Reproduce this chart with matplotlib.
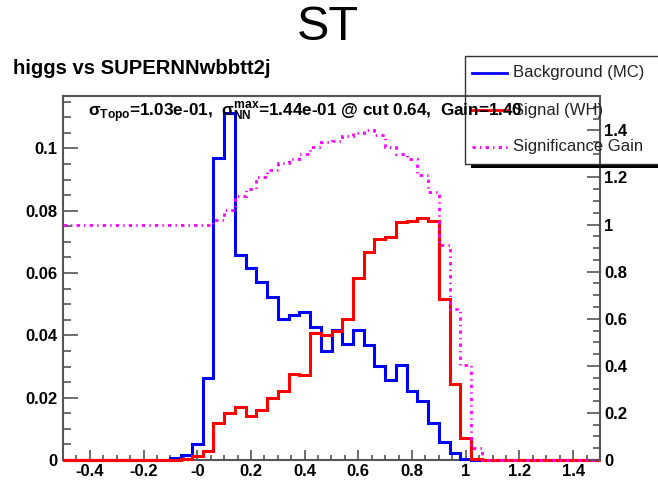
import numpy as np
import matplotlib
matplotlib.use("Agg")
import matplotlib.pyplot as plt
from matplotlib.patches import Rectangle
from matplotlib.lines import Line2D

plt.rcParams['font.family'] = ['Liberation Sans', 'DejaVu Sans']
plt.rcParams['mathtext.fontset'] = 'custom'
plt.rcParams['mathtext.rm'] = 'Liberation Sans:bold'
plt.rcParams['mathtext.it'] = 'Liberation Sans:bold'
plt.rcParams['mathtext.bf'] = 'Liberation Sans:bold'

# ---- data (50 bins from -0.5 to 1.5) ----
bin_lo, bin_hi, n_bins = -0.5, 1.5, 50
background = [0, 0, 0, 0, 0, 0, 0, 0, 0, 0.0001,
              0.0005, 0.0015, 0.0051, 0.0262, 0.0968, 0.1113, 0.0658, 0.0617, 0.0570, 0.0522,
              0.0451, 0.0465, 0.0476, 0.0428, 0.0350, 0.0417, 0.0372, 0.0417, 0.0368, 0.0302,
              0.0257, 0.0305, 0.0221, 0.0190, 0.0118, 0.0059, 0.0021, 0.0003, 0, 0,
              0, 0, 0, 0, 0, 0, 0, 0, 0, 0]
signal = [0, 0, 0, 0, 0, 0, 0, 0, 0, 0,
          0, 0.0003, 0.0012, 0.0030, 0.0118, 0.0152, 0.0169, 0.0141, 0.0160, 0.0200,
          0.0221, 0.0275, 0.0272, 0.0409, 0.0400, 0.0415, 0.0451, 0.0583, 0.0668, 0.0708,
          0.0716, 0.0765, 0.0768, 0.0775, 0.0767, 0.0516, 0.0243, 0.0070, 0.0003, 0,
          0, 0, 0, 0, 0, 0, 0, 0, 0, 0]
gain = [1.0, 1.0, 1.0, 1.0, 1.0, 1.0, 1.0, 1.0, 1.0, 1.0,
        1.0, 1.0, 1.0, 1.0, 1.02, 1.06, 1.12, 1.15, 1.20, 1.23,
        1.26, 1.28, 1.30, 1.33, 1.35, 1.355, 1.375, 1.39, 1.40, 1.38,
        1.33, 1.30, 1.28, 1.21, 1.14, 0.915, 0.64, 0.405, 0.05, 0,
        0, 0, 0, 0, 0, 0, 0, 0, 0, 0]

x_ticks = [-0.4, -0.2, 0.0, 0.2, 0.4, 0.6, 0.8, 1.0, 1.2, 1.4]
x_ticklabels = ["-0.4", "-0.2", "-0", "0.2", "0.4", "0.6", "0.8", "1", "1.2", "1.4"]
yl_ticks = [0, 0.02, 0.04, 0.06, 0.08, 0.1]
yl_ticklabels = ["0", "0.02", "0.04", "0.06", "0.08", "0.1"]
yr_ticks = [0, 0.2, 0.4, 0.6, 0.8, 1.0, 1.2, 1.4]
yr_ticklabels = ["0", "0.2", "0.4", "0.6", "0.8", "1", "1.2", "1.4"]

title = "ST"
subtitle = "higgs vs SUPERNNwbbtt2j"
stat_text = r"$\sigma_{Topo}$=1.03e-01,  $\sigma_{NN}^{max}$=1.44e-01 @ cut 0.64,  Gain=1.40"
legend_labels = ["Background (MC)", "Signal (WH)", "Significance Gain"]

W, H = 658, 483
def fx(x): return x / W
def fy(y): return 1 - y / H

fig = plt.figure(figsize=(W / 100, H / 100), dpi=100)
ax = fig.add_axes([fx(63), fy(460), (600 - 63) / W, (460 - 96) / H])
ax2 = ax.twinx()

edges = np.linspace(bin_lo, bin_hi, n_bins + 1)
ax.stairs(background, edges, color='#0000ff', lw=2.2, baseline=None, clip_on=False, zorder=3)
ax.stairs(signal, edges, color='#ff0000', lw=2.2, baseline=None, clip_on=False, zorder=4)
ax2.stairs(gain, edges, color='#ff00ff', lw=2.0, baseline=None, clip_on=False,
           linestyle=(0, (1.2, 1.5, 0.5, 1.5)))

ax.set_xlim(bin_lo, bin_hi)
ax.set_ylim(0, 0.1168)
ax2.set_ylim(0, 1.546)

fc = '#555555'
for a in (ax, ax2):
    for s in a.spines.values():
        s.set_color(fc)
        s.set_linewidth(1.5)
ax.spines['right'].set_visible(False)
ax2.spines['left'].set_visible(False)
ax2.spines['bottom'].set_visible(False)

ax.set_xticks(x_ticks)
ax.set_xticklabels(x_ticklabels, fontsize=12, fontweight='bold')
ax.set_xticks(np.arange(-0.5, 1.501, 0.05), minor=True)
ax.set_yticks(yl_ticks)
ax.set_yticklabels(yl_ticklabels, fontsize=12, fontweight='bold')
ax.set_yticks(np.arange(0, 0.1151, 0.005), minor=True)
ax.tick_params(axis='x', which='major', direction='in', length=7, width=1.2, color=fc, pad=3)
ax.tick_params(axis='x', which='minor', direction='in', length=3.6, width=1.2, color=fc)
ax.tick_params(axis='y', which='major', direction='in', length=10.5, width=1.2, color=fc, pad=4)
ax.tick_params(axis='y', which='minor', direction='in', length=5.5, width=1.2, color=fc)

ax2.set_yticks(yr_ticks)
ax2.set_yticklabels(yr_ticklabels, fontsize=12, fontweight='bold')
ax2.set_yticks(np.arange(0, 1.5451, 0.05), minor=True)
ax2.tick_params(axis='y', which='major', direction='in', length=9.4, width=1.2, color=fc, pad=3)
ax2.tick_params(axis='y', which='minor', direction='in', length=5, width=1.2, color=fc)

# titles
fig.text(fx(328), fy(27), title, ha='center', va='center', fontsize=35)
fig.text(fx(13), fy(69), subtitle, ha='left', va='center', fontsize=14.6, fontweight='bold')

# legend (manual, like ROOT TLegend)
fig.add_artist(Rectangle((fx(471), fy(168)), (720 - 471) / W, 4 / H, transform=fig.transFigure,
                         facecolor='black', edgecolor='none', clip_on=False))
fig.add_artist(Rectangle((fx(465), fy(164)), (720 - 465) / W, (164 - 56) / H,
                         transform=fig.transFigure, fill=False, edgecolor='#333333', lw=1.0,
                         clip_on=False))
leg_y = [73, 110, 147]
leg_col = ['#0000ff', '#ff0000', '#ff00ff']
leg_ls = ['-', '-', (0, (1.2, 1.5, 0.5, 1.5))]
for yy, c, ls, lab in zip(leg_y, leg_col, leg_ls, legend_labels):
    fig.add_artist(Line2D([fx(472), fx(507)], [fy(yy), fy(yy)], color=c, lw=2.0,
                          linestyle=ls, transform=fig.transFigure))
    fig.text(fx(513), fy(yy), lab, ha='left', va='center', fontsize=12, color='#222222')

fig.text(fx(88), fy(113), stat_text, ha='left', va='center', fontsize=12.3, fontweight='bold',
         zorder=10)

fig.savefig("out.png", dpi=100)
